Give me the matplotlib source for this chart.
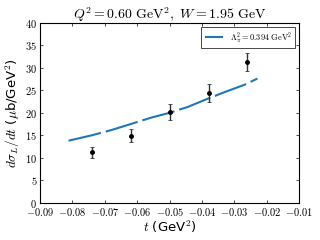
import numpy as np
import matplotlib
matplotlib.use("Agg")
import matplotlib.pyplot as plt
from matplotlib.ticker import FuncFormatter

# data points (t, dsigma_L/dt, error)
t_data = [-0.0740, -0.0619, -0.0500, -0.0379, -0.0261]
sig_data = [11.2, 14.9, 20.2, 24.4, 31.4]
sig_err = [1.2, 1.4, 1.7, 1.9, 2.0]

# model curve
t_curve = [-0.0812, -0.0740, -0.0678, -0.0620, -0.0558, -0.0500, -0.0444,
           -0.0380, -0.0330, -0.0270, -0.0229]
sig_curve = [13.8, 15.0, 16.2, 17.5, 18.9, 20.0, 21.3,
             23.2, 24.6, 26.2, 27.6]

plt.rcParams['mathtext.fontset'] = 'cm'
plt.rcParams['lines.scale_dashes'] = False

fig = plt.figure(figsize=(3.2, 2.4), dpi=100)
ax = fig.add_axes([0.125, 0.155, 0.81, 0.75])

ax.plot(t_curve, sig_curve, color='#1f77b4', lw=1.5, dashes=(24, 3.6),
        label=r'$\Lambda_\pi^2 = 0.394\ \mathrm{GeV}^2$')
ax.errorbar(t_data, sig_data, yerr=sig_err, fmt='o', color='black', ms=2.5,
            ecolor='#333333', elinewidth=1.0, capsize=1.5, capthick=0.6)

ax.set_xlim(-0.09, -0.01)
ax.set_ylim(0, 40)
ax.set_xticks(np.arange(-0.09, -0.0099, 0.01))
ax.set_yticks(np.arange(0, 41, 5))
ax.xaxis.set_major_formatter(FuncFormatter(lambda v, p: r'$%.2f$' % v))
ax.yaxis.set_major_formatter(FuncFormatter(lambda v, p: r'$%d$' % round(v)))
ax.tick_params(direction='in', length=2.5, width=0.5, labelsize=7.5,
               top=True, right=True, pad=2)
for s in ax.spines.values():
    s.set_linewidth(0.8)

ax.set_title(r'$Q^2 = 0.60\ \mathrm{GeV}^2,\ W = 1.95\ \mathrm{GeV}$',
             fontsize=10, pad=3)
ax.set_xlabel(r'$t$ (GeV$^2$)', fontsize=9.5, labelpad=1)
ax.set_ylabel(r'$d\sigma_L/dt$ ($\mu$b/GeV$^2$)', fontsize=9.5, labelpad=2)

leg = ax.legend(loc='upper right', fontsize=6, handlelength=2.2,
                fancybox=False, framealpha=1, edgecolor='black',
                borderpad=0.4)
leg.get_frame().set_linewidth(0.5)

fig.savefig('out.png', dpi=100)
